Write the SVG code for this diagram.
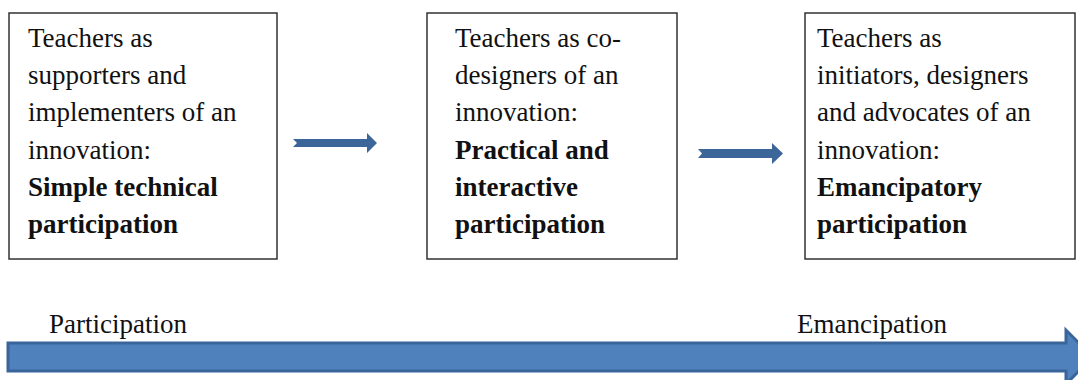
<svg xmlns="http://www.w3.org/2000/svg" width="1078" height="380" viewBox="0 0 1078 380">
<style>
.box{fill:#fff;stroke:#333;stroke-width:1.5}
.t{font-family:"Liberation Serif","Times New Roman",serif;font-size:27px;fill:#111}
.b{font-weight:bold}
.sa{fill:#3c6599}
.big{fill:#4f81bd;stroke:#3a659b;stroke-width:3;stroke-linejoin:miter}
</style>
<rect width="1078" height="380" fill="#fff"/>
<g id="node1">
<rect class="box" x="9" y="13" width="268" height="246"/>
<text class="t" x="28" y="47">Teachers as</text>
<text class="t" x="28" y="84">supporters and</text>
<text class="t" x="28" y="121">implementers of an</text>
<text class="t" x="28" y="159">innovation:</text>
<text class="t b" x="28" y="196">Simple technical</text>
<text class="t b" x="28" y="233">participation</text>
</g>
<g id="node2">
<rect class="box" x="427" y="13" width="250" height="246"/>
<text class="t" x="455" y="47">Teachers as co-</text>
<text class="t" x="455" y="84">designers of an</text>
<text class="t" x="455" y="121">innovation:</text>
<text class="t b" x="455" y="159">Practical and</text>
<text class="t b" x="455" y="196">interactive</text>
<text class="t b" x="455" y="233">participation</text>
</g>
<g id="node3">
<rect class="box" x="805" y="13" width="270" height="246"/>
<text class="t" x="817" y="47">Teachers as</text>
<text class="t" x="817" y="84">initiators, designers</text>
<text class="t" x="817" y="121">and advocates of an</text>
<text class="t" x="817" y="159">innovation:</text>
<text class="t b" x="817" y="196">Emancipatory</text>
<text class="t b" x="817" y="233">participation</text>
</g>
<g id="connectors">
<polygon class="sa" points="293,139 367,139 367,133 377,143 367,153 367,147 293,147 297,143"/>
<polygon class="sa" points="698,149 772,149 772,143 783,153.5 772,164 772,158 698,158 702,153.5"/>
</g>
<g id="axis">
<polygon class="big" points="8,343 1066,343 1066,330 1093,357 1066,384 1066,371 8,371"/>
<text class="t" x="49" y="333">Participation</text>
<text class="t" x="797" y="333">Emancipation</text>
</g>
</svg>
